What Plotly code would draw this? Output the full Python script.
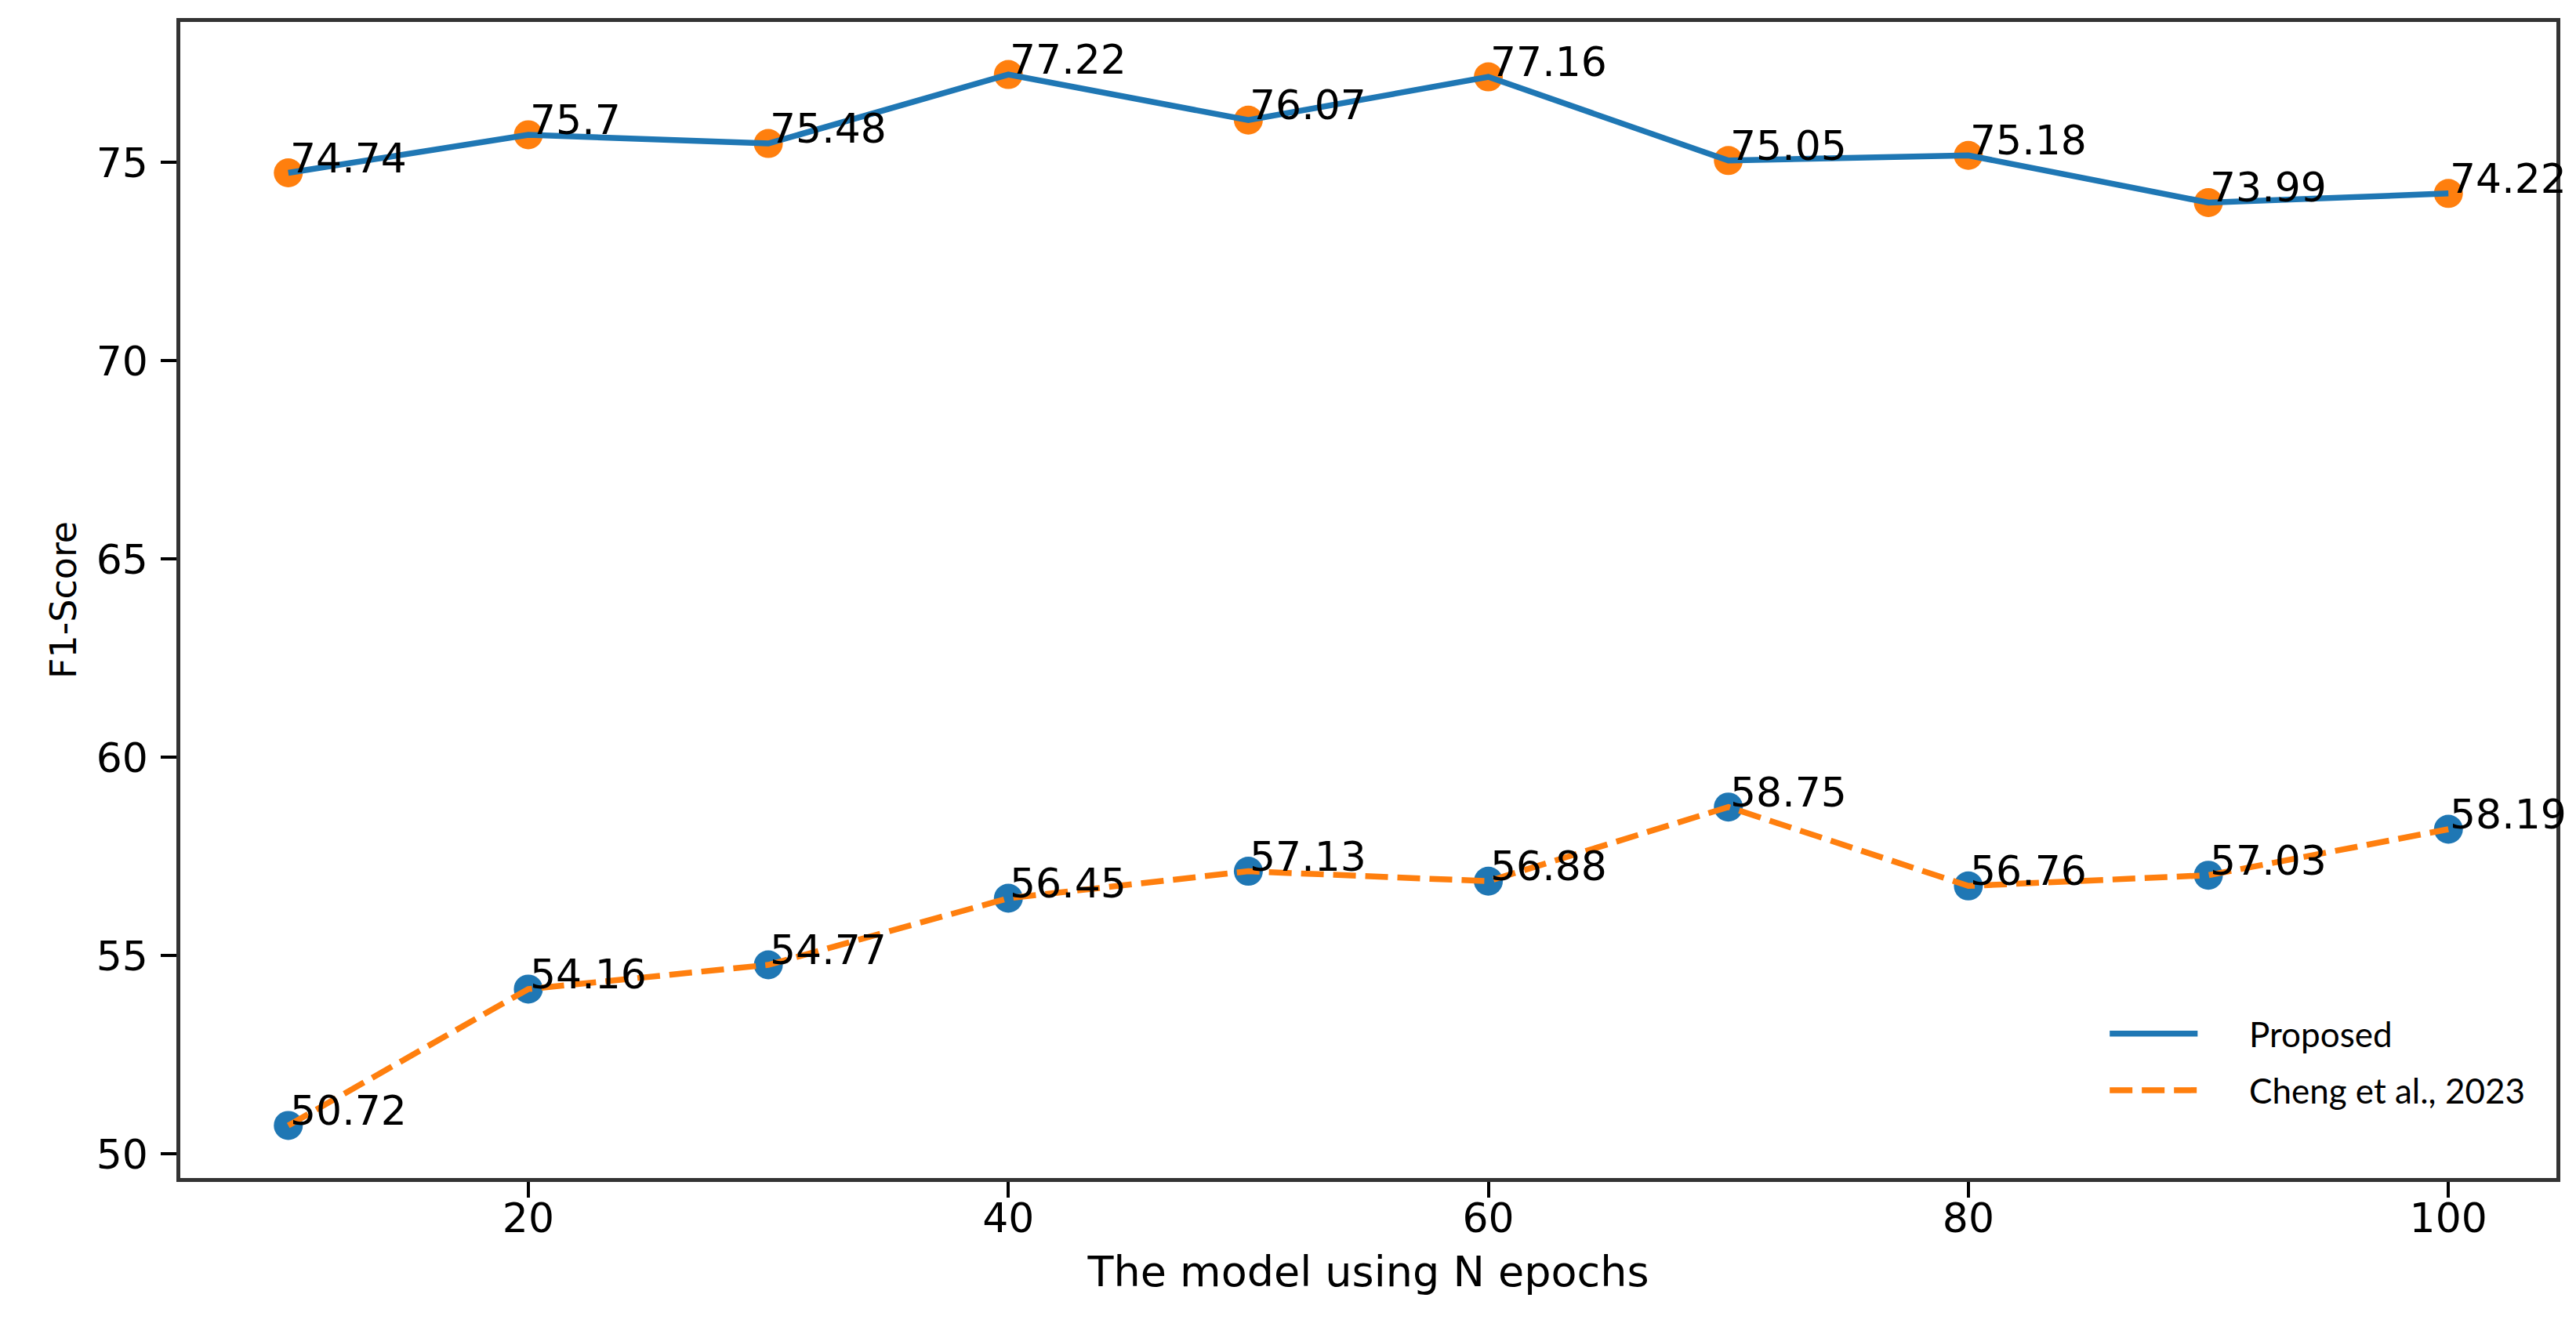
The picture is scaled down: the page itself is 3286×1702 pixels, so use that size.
import plotly.graph_objects as go

epochs = [10, 20, 30, 40, 50, 60, 70, 80, 90, 100]
proposed = [74.74, 75.7, 75.48, 77.22, 76.07, 77.16, 75.05, 75.18, 73.99, 74.22]
cheng = [50.72, 54.16, 54.77, 56.45, 57.13, 56.88, 58.75, 56.76, 57.03, 58.19]
proposed_labels = ["74.74", "75.7", "75.48", "77.22", "76.07", "77.16", "75.05", "75.18", "73.99", "74.22"]
cheng_labels = ["50.72", "54.16", "54.77", "56.45", "57.13", "56.88", "58.75", "56.76", "57.03", "58.19"]
series_names = ["Proposed", "Cheng et al., 2023"]
x_ticks = [20, 40, 60, 80, 100]
y_ticks = [50, 55, 60, 65, 70, 75]

BLUE = "#1f77b4"
ORANGE = "#ff7f0e"
DASH = "29px,12px"
LW = 7.5

fig = go.Figure()
# markers first (drawn under the lines)
fig.add_trace(go.Scatter(x=epochs, y=proposed, mode="markers",
                         marker=dict(color=ORANGE, size=37, line=dict(width=0)),
                         showlegend=False, hoverinfo="skip"))
fig.add_trace(go.Scatter(x=epochs, y=cheng, mode="markers",
                         marker=dict(color=BLUE, size=37, line=dict(width=0)),
                         showlegend=False, hoverinfo="skip"))
fig.add_trace(go.Scatter(x=epochs, y=proposed, mode="lines", name=series_names[0],
                         line=dict(color=BLUE, width=LW), showlegend=False))
fig.add_trace(go.Scatter(x=epochs, y=cheng, mode="lines", name=series_names[1],
                         line=dict(color=ORANGE, width=LW, dash=DASH), showlegend=False))

for xs, ys, labs in [(epochs, proposed, proposed_labels), (epochs, cheng, cheng_labels)]:
    for xv, yv, lab in zip(xs, ys, labs):
        fig.add_annotation(x=xv, y=yv, text=lab, showarrow=False,
                           xanchor="left", yanchor="bottom", xshift=0, yshift=-13,
                           font=dict(family="DejaVu Sans", size=52, color="#000"))

# custom legend (line samples + labels), in plot-area (paper) coordinates
legend_x0, legend_x1, legend_tx = 0.812, 0.849, 0.870
legend_rows = [0.125, 0.076]
legend_styles = [dict(color=BLUE, width=LW, dash="solid"), dict(color=ORANGE, width=LW, dash=DASH)]
for name, ly, st in zip(series_names, legend_rows, legend_styles):
    fig.add_shape(type="line", xref="paper", yref="paper", x0=legend_x0, x1=legend_x1,
                  y0=ly, y1=ly, line=st)
    fig.add_annotation(xref="paper", yref="paper", x=legend_tx, y=ly, text=name,
                       showarrow=False, xanchor="left", yanchor="middle",
                       font=dict(family="Lato", size=44, color="#000"))

fig.update_layout(
    width=3286, height=1702,
    margin=dict(l=222, r=33, t=20, b=207),
    paper_bgcolor="white", plot_bgcolor="white",
    font=dict(family="DejaVu Sans", color="#000"),
    showlegend=False,
)
fig.update_xaxes(range=[5.5, 104.5], tickvals=x_ticks, showgrid=False, zeroline=False,
                 showline=True, linecolor="#333", linewidth=4.5, mirror=True,
                 ticks="outside", ticklen=20, tickwidth=4, tickcolor="#000",
                 ticklabelstandoff=-18, automargin=False,
                 tickfont=dict(size=52, family="DejaVu Sans", color="#000"),
                 title=dict(text="The model using N epochs", standoff=22,
                            font=dict(size=54, family="DejaVu Sans", color="#000")))
fig.update_yaxes(range=[49.395, 78.545], tickvals=y_ticks, showgrid=False, zeroline=False,
                 showline=True, linecolor="#333", linewidth=4.5, mirror=True,
                 ticks="outside", ticklen=20, tickwidth=4, tickcolor="#000",
                 ticklabelstandoff=6, automargin=False,
                 tickfont=dict(size=52, family="DejaVu Sans", color="#000"),
                 title=dict(text="F1-Score", standoff=12,
                            font=dict(size=46, family="DejaVu Sans", color="#000")))

fig.write_html("out.html")
